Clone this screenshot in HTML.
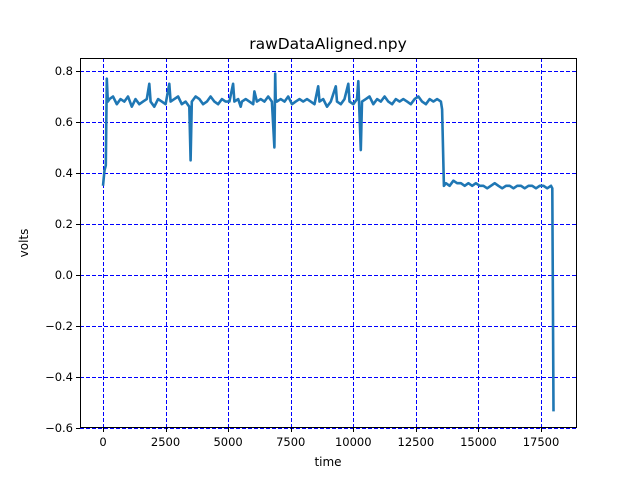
<!DOCTYPE html>
<html><head><meta charset="utf-8"><style>
body{margin:0;background:#fff}
svg{display:block;font-family:"DejaVu Sans","Liberation Sans",sans-serif}
</style></head><body>
<svg id="c" width="640" height="480">
<rect x="0" y="0" width="640" height="480" fill="#fff"/>
<text x="328" y="49" text-anchor="middle" font-size="15.5">rawDataAligned.npy</text>
<text x="328" y="466" text-anchor="middle" font-size="12">time</text>
<text x="28" y="243" text-anchor="middle" font-size="12" transform="rotate(-90 28 243)">volts</text>
<g id="grid"></g>
<g id="series"></g>
<rect x="80.5" y="58.5" width="496" height="369" fill="none" stroke="#000" stroke-width="1"/>
<g id="ticks"></g>
</svg>
<script>
const xTicks=[0,2500,5000,7500,10000,12500,15000,17500];
const yTicks=[-0.6,-0.4,-0.2,0.0,0.2,0.4,0.6,0.8];
const times=[0,60,110,150,190,260,400,550,700,850,1000,1150,1300,1450,1600,1750,1850,1900,2050,2200,2350,2500,2650,2700,2850,3000,3150,3300,3450,3500,3550,3700,3850,4000,4150,4300,4450,4600,4750,4900,5050,5200,5250,5400,5500,5550,5700,5850,6000,6050,6150,6300,6450,6600,6750,6850,6880,6900,6950,7100,7250,7400,7550,7700,7850,8000,8150,8300,8450,8600,8650,8800,8950,9100,9300,9350,9500,9650,9800,9850,10000,10150,10200,10300,10350,10500,10650,10800,10950,11100,11250,11400,11550,11700,11850,12000,12150,12300,12450,12600,12750,12900,13050,13200,13350,13500,13550,13620,13700,13850,14000,14150,14300,14450,14600,14750,14900,15050,15200,15350,15500,15650,15800,15950,16100,16250,16400,16550,16700,16850,17000,17150,17300,17450,17600,17750,17900,17950,18000];
const volts=[0.35,0.41,0.43,0.77,0.68,0.69,0.70,0.67,0.69,0.68,0.70,0.66,0.69,0.67,0.68,0.69,0.75,0.68,0.66,0.69,0.68,0.67,0.75,0.68,0.69,0.70,0.67,0.68,0.66,0.45,0.68,0.70,0.69,0.67,0.68,0.70,0.68,0.67,0.69,0.68,0.68,0.75,0.68,0.69,0.66,0.68,0.69,0.68,0.67,0.72,0.68,0.69,0.68,0.70,0.68,0.50,0.79,0.69,0.68,0.69,0.68,0.70,0.67,0.68,0.69,0.68,0.69,0.68,0.67,0.74,0.68,0.69,0.66,0.68,0.74,0.68,0.67,0.69,0.75,0.68,0.67,0.69,0.76,0.49,0.68,0.69,0.70,0.67,0.69,0.68,0.70,0.68,0.67,0.69,0.68,0.69,0.68,0.67,0.69,0.70,0.68,0.67,0.69,0.68,0.69,0.68,0.65,0.35,0.36,0.35,0.37,0.36,0.36,0.35,0.36,0.35,0.36,0.35,0.35,0.34,0.35,0.36,0.35,0.34,0.35,0.35,0.34,0.35,0.35,0.34,0.35,0.35,0.34,0.35,0.35,0.34,0.35,0.34,-0.535];
const NS="http://www.w3.org/2000/svg";
const X=t=>103+(t/2500)*62.57;
const Y=v=>275-(v/0.2)*51;
const C=p=>Math.round(p)+0.5;
function mk(tag,attrs,parent){const e=document.createElementNS(NS,tag);for(const k in attrs)e.setAttribute(k,attrs[k]);parent.appendChild(e);return e;}
const grid=document.getElementById('grid'),ticks=document.getElementById('ticks'),series=document.getElementById('series');
xTicks.forEach(t=>{
 const x=C(X(t));
 const l=mk('line',{x1:x,x2:x,y1:58,y2:427,stroke:'#0000ff','stroke-width':1,'stroke-dasharray':'4,2'},grid);
 
 
 const tk=mk('line',{x1:x,x2:x,y1:428,y2:432,stroke:'#000','stroke-width':1},ticks);
 
 
 const tx=mk('text',{x:X(t),y:446,'text-anchor':'middle','font-size':11.5},ticks);
 tx.textContent=String(t);
 
 
});
yTicks.forEach(v=>{
 const y=C(Y(v));
 const l=mk('line',{x1:80,x2:576,y1:y,y2:y,stroke:'#0000ff','stroke-width':1,'stroke-dasharray':'4,2'},grid);
 
 
 const tk=mk('line',{x1:76,x2:80,y1:y,y2:y,stroke:'#000','stroke-width':1},ticks);
 
 
 const tx=mk('text',{x:73,y:Y(v)+4,'text-anchor':'end','font-size':11.5},ticks);
 tx.textContent=(v<0?'\u2212':'')+Math.abs(v).toFixed(1);
 
 
});
const d=times.map((t,i)=>(i?'L':'M')+X(t).toFixed(1)+','+Y(volts[i]).toFixed(1)).join(' ');
const p=mk('path',{d:d,fill:'none',stroke:'#1f77b4','stroke-width':2.6,'stroke-linejoin':'round'},series);


</script>
</body></html>
